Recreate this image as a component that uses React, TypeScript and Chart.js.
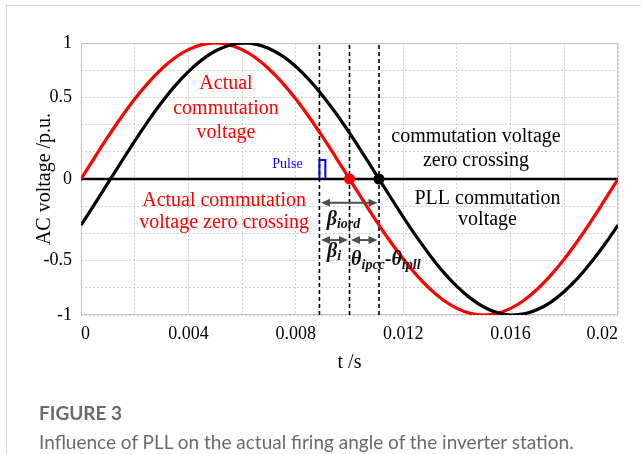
import React, { useEffect, useRef } from 'react';
import { Chart, registerables } from 'chart.js';

Chart.register(...registerables);

// ---- data ----
const timeS = [
  0, 0.0005, 0.001, 0.0015, 0.002, 0.0025, 0.003, 0.0035, 0.004, 0.0045,
  0.005, 0.0055, 0.006, 0.0065, 0.007, 0.0075, 0.008, 0.0085, 0.009, 0.0095,
  0.01, 0.0105, 0.011, 0.0115, 0.012, 0.0125, 0.013, 0.0135, 0.014, 0.0145,
  0.015, 0.0155, 0.016, 0.0165, 0.017, 0.0175, 0.018, 0.0185, 0.019, 0.0195,
  0.02,
];
const actualVoltage = [
  0, 0.156, 0.309, 0.454, 0.588, 0.707, 0.809, 0.891, 0.951, 0.988,
  1, 0.988, 0.951, 0.891, 0.809, 0.707, 0.588, 0.454, 0.309, 0.156,
  0, -0.156, -0.309, -0.454, -0.588, -0.707, -0.809, -0.891, -0.951, -0.988,
  -1, -0.988, -0.951, -0.891, -0.809, -0.707, -0.588, -0.454, -0.309, -0.156,
  0,
];
const pllVoltage = [
  -0.339, -0.187, -0.031, 0.125, 0.279, 0.426, 0.562, 0.685, 0.79, 0.876,
  0.941, 0.982, 1.0, 0.992, 0.96, 0.905, 0.827, 0.729, 0.613, 0.482,
  0.339, 0.187, 0.031, -0.125, -0.279, -0.426, -0.562, -0.685, -0.79, -0.876,
  -0.941, -0.982, -1.0, -0.992, -0.96, -0.905, -0.827, -0.729, -0.613, -0.482,
  -0.339,
];
const zeroLineT = [0, 0.02];
const zeroLineV = [0, 0];
const markerT = [0.00888, 0.01, 0.0111];
const markerSpanV = [-1, 1];
const pulseT = [0.00888, 0.00888, 0.0091, 0.0091];
const pulseV = [0, 0.14, 0.14, 0];
const zeroCrossT = [0.01, 0.0111];
const zeroCrossV = [0, 0];

const xTickValues = [0, 0.002, 0.004, 0.006, 0.008, 0.01, 0.012, 0.014, 0.016, 0.018, 0.02];
const xTickLabels = ['0', '', '0.004', '', '0.008', '', '0.012', '', '0.016', '', '0.02'];
const yTickValues = [-1, -0.8, -0.6, -0.4, -0.2, 0, 0.2, 0.4, 0.6, 0.8, 1];
const yTickLabels = ['-1', '', '-0.5', '', '', '0', '', '', '0.5', '', '1'];

const SERIF = "'Liberation Serif', 'Times New Roman', serif";

const pts = (xs: number[], ys: number[]) => xs.map((x, i) => ({ x, y: ys[i] }));

const annotationPlugin = {
  id: 'figAnnotations',
  beforeDatasetsDraw(chart: any) {
    const { ctx, chartArea } = chart;
    ctx.save();
    ctx.strokeStyle = '#c4c4c4';
    ctx.lineWidth = 1;
    ctx.strokeRect(chartArea.left + 0.5, chartArea.top + 0.5, chartArea.right - chartArea.left - 1, chartArea.bottom - chartArea.top - 1);
    ctx.restore();
  },
  afterDatasetsDraw(chart: any) {
    const { ctx } = chart;
    const xs = chart.scales.x;
    const ys = chart.scales.y;
    const px = (t: number) => xs.getPixelForValue(t);
    const py = (v: number) => ys.getPixelForValue(v);
    ctx.save();

    const text = (s: string, t: number, v: number, color: string, font: string, align: CanvasTextAlign = 'center') => {
      ctx.font = font;
      ctx.fillStyle = color;
      ctx.textAlign = align;
      ctx.textBaseline = 'alphabetic';
      ctx.fillText(s, px(t), py(v));
    };
    const f20 = `20px ${SERIF}`;
    text('Actual', 0.0054, 0.662, '#ff0000', f20);
    text('commutation', 0.0054, 0.478, '#ff0000', f20);
    text('voltage', 0.0054, 0.301, '#ff0000', f20);
    text('Actual commutation', 0.00533, -0.196, '#ff0000', f20);
    text('voltage zero crossing', 0.00533, -0.36, '#ff0000', f20);
    text('commutation voltage', 0.01471, 0.274, '#000000', f20);
    text('zero crossing', 0.01471, 0.096, '#000000', f20);
    text('PLL commutation', 0.01514, -0.186, '#000000', f20);
    text('voltage', 0.01514, -0.338, '#000000', f20);
    text('Pulse', 0.00769, 0.079, '#0000ff', `14px ${SERIF}`);

    // arrows
    const arrow = (t1: number, t2: number, v: number) => {
      const x1 = px(t1) + 1.5, x2 = px(t2) - 1.5, y = py(v);
      const L = 9, H = 4;
      ctx.strokeStyle = '#4d4d4d';
      ctx.fillStyle = '#4d4d4d';
      ctx.lineWidth = 2;
      ctx.beginPath();
      ctx.moveTo(x1 + L - 1, y);
      ctx.lineTo(x2 - L + 1, y);
      ctx.stroke();
      ctx.beginPath();
      ctx.moveTo(x1, y); ctx.lineTo(x1 + L, y - H); ctx.lineTo(x1 + L, y + H); ctx.closePath(); ctx.fill();
      ctx.beginPath();
      ctx.moveTo(x2, y); ctx.lineTo(x2 - L, y - H); ctx.lineTo(x2 - L, y + H); ctx.closePath(); ctx.fill();
    };
    arrow(markerT[0], markerT[2], -0.174);
    arrow(markerT[0], markerT[1], -0.449);
    arrow(markerT[1], markerT[2], -0.449);

    // greek labels with subscripts
    const big = `italic bold 20px ${SERIF}`;
    const small = `italic bold 14px ${SERIF}`;
    const run = (t: number, v: number, parts: [string, string, number][]) => {
      let x = px(t);
      const y = py(v);
      ctx.fillStyle = '#111111';
      ctx.textAlign = 'left';
      ctx.textBaseline = 'alphabetic';
      for (const [s, font, dy] of parts) {
        ctx.font = font;
        ctx.fillText(s, x, y + dy);
        x += ctx.measureText(s).width;
      }
    };
    run(0.00915, -0.338, [['β', big, 0], ['iord', small, 3]]);
    run(0.00916, -0.574, [['β', big, 0], ['i', small, 3]]);
    run(0.01006, -0.632, [['θ', big, 0], ['ipcc', small, 4], ['-', `bold 20px ${SERIF}`, 0], ['θ', big, 0], ['ipll', small, 4]]);

    ctx.restore();
  },
};

export default function App() {
  const canvasRef = useRef<HTMLCanvasElement | null>(null);

  useEffect(() => {
    document.body.style.margin = '0';
    const canvas = canvasRef.current;
    if (!canvas) return;

    const markerSets = markerT.map((t) => ({
      type: 'line' as const,
      data: [{ x: t, y: markerSpanV[0] }, { x: t, y: markerSpanV[1] }],
      borderColor: '#000000',
      borderWidth: 1.6,
      borderDash: [4, 3],
      pointRadius: 0,
      order: 5,
    }));

    const chart = new Chart(canvas, {
      type: 'line',
      data: {
        datasets: [
          {
            data: pts(zeroCrossT, zeroCrossV),
            showLine: false,
            pointRadius: 5.5,
            pointBackgroundColor: ['#ff0000', '#000000'],
            pointBorderColor: ['#ff0000', '#000000'],
            pointBorderWidth: 0,
            order: 0,
          },
          {
            data: pts(pulseT, pulseV),
            borderColor: '#0000ff',
            borderWidth: 2,
            pointRadius: 0,
            tension: 0,
            order: 1,
          },
          {
            data: pts(timeS, pllVoltage),
            borderColor: '#000000',
            borderWidth: 3.2,
            pointRadius: 0,
            tension: 0.4,
            order: 2,
          },
          {
            data: pts(timeS, actualVoltage),
            borderColor: '#ff0000',
            borderWidth: 3.2,
            pointRadius: 0,
            tension: 0.4,
            order: 3,
          },
          {
            data: pts(zeroLineT, zeroLineV),
            borderColor: '#000000',
            borderWidth: 2.5,
            pointRadius: 0,
            order: 4,
          },
          ...markerSets,
        ],
      },
      options: {
        animation: false,
        responsive: false,
        events: [],
        layout: { padding: { left: 0, top: 43, right: 23, bottom: 79 } },
        plugins: { legend: { display: false }, tooltip: { enabled: false } },
        scales: {
          x: {
            type: 'linear',
            min: 0,
            max: 0.02,
            afterBuildTicks: (s: any) => { s.ticks = xTickValues.map((value) => ({ value })); },
            afterFit: (s: any) => { s.height = 60; },
            grid: { color: '#cfcfcf', lineWidth: 1, drawTicks: false },
            border: { display: false, dash: [2, 2] },
            ticks: {
              padding: 8,
              color: '#000000',
              font: { family: SERIF, size: 18 },
              maxRotation: 0,
              autoSkip: false,
              align: 'inner',
              callback: (_v: any, i: number) => xTickLabels[i],
            },
            title: {
              display: true,
              text: 't /s',
              color: '#000000',
              font: { family: SERIF, size: 20 },
              padding: 0,
            },
          },
          y: {
            type: 'linear',
            min: -1,
            max: 1,
            afterBuildTicks: (s: any) => { s.ticks = yTickValues.map((value) => ({ value })); },
            afterFit: (s: any) => { s.width = 81; },
            grid: { color: '#cfcfcf', lineWidth: 1, drawTicks: false },
            border: { display: false, dash: [2, 2] },
            ticks: {
              padding: 9,
              color: '#000000',
              font: { family: SERIF, size: 18 },
              autoSkip: false,
              callback: (_v: any, i: number) => yTickLabels[i],
            },
            title: {
              display: true,
              text: 'AC voltage /p.u.',
              color: '#000000',
              font: { family: SERIF, size: 20 },
              padding: { top: 33, bottom: 0 },
            },
          },
        },
      },
      plugins: [annotationPlugin],
    } as any);

    return () => chart.destroy();
  }, []);

  return (
    <div style={{ position: 'relative', width: 641, height: 454, overflow: 'hidden', background: '#ffffff' }}>
      <div
        style={{
          position: 'absolute',
          left: 6,
          top: 5,
          width: 700,
          height: 500,
          borderLeft: '1px solid #d2d2d2',
          borderTop: '1px solid #d2d2d2',
        }}
      />
      <canvas ref={canvasRef} width={641} height={454} style={{ position: 'absolute', left: 0, top: 0, display: 'block' }} />
      <div
        style={{
          position: 'absolute',
          left: 39,
          top: 403,
          font: "bold 19px Lato, 'Noto Sans', sans-serif",
          lineHeight: '19px',
          color: '#6a6a6a',
          whiteSpace: 'nowrap',
        }}
      >
        FIGURE 3
      </div>
      <div
        style={{
          position: 'absolute',
          left: 39,
          top: 432,
          font: "19px Lato, 'Noto Sans', sans-serif",
          lineHeight: '19px',
          color: '#6a6a6a',
          whiteSpace: 'nowrap',
        }}
      >
        Influence of PLL on the actual firing angle of the inverter station.
      </div>
    </div>
  );
}
